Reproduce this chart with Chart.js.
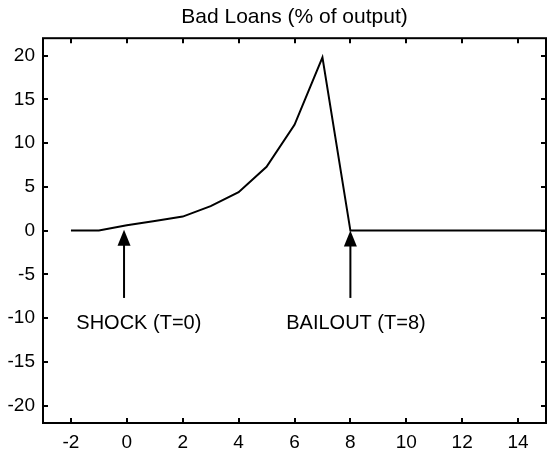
<!DOCTYPE html>
<html>
<head>
<meta charset="utf-8">
<script src="https://cdn.jsdelivr.net/npm/chart.js@4.4.1/dist/chart.umd.min.js"></script>
<style>
html,body{margin:0;padding:0;background:#fff;}
#wrap{width:547px;height:457px;}
</style>
</head>
<body>
<div id="wrap"><canvas id="c" width="547" height="457"></canvas></div>
<script>
// ---- data ----
const periods   = [-2,-1,0,1,2,3,4,5,6,7,8,9,10,11,12,13,14,15];
const badLoans  = [0,0,0.6,1.1,1.6,2.8,4.4,7.3,12.1,19.8,0,0,0,0,0,0,0,0];
const xTickVals = [-2,0,2,4,6,8,10,12,14];
const yTickVals = [-20,-15,-10,-5,0,5,10,15,20];
const titleText = 'Bad Loans (% of output)';
const arrowX      = [-0.1, 8];
const arrowTipY   = [0.1, 0];
const arrowTailY  = [-7.7, -7.7];
const labelTexts  = ['SHOCK (T=0)', 'BAILOUT (T=8)'];
const labelX      = [0.43, 8.2];
const labelY      = [-10.6, -10.6];

const FONT = "'Liberation Sans', Arial, Helvetica, sans-serif";

const points = periods.map((p,i)=>({x:p, y:badLoans[i]}));

const decor = {
  id:'decor',
  afterDatasetsDraw(chart){
    const {ctx, chartArea:a, scales:{x, y}} = chart;
    ctx.save();
    ctx.strokeStyle = '#000';
    ctx.fillStyle = '#000';
    // frame
    ctx.lineWidth = 2;
    ctx.strokeRect(a.left, a.top, a.right - a.left, a.bottom - a.top);
    // inward ticks
    const tl = 5;
    ctx.beginPath();
    xTickVals.forEach(v=>{
      const px = Math.round(x.getPixelForValue(v));
      ctx.moveTo(px, a.bottom); ctx.lineTo(px, a.bottom - tl);
      ctx.moveTo(px, a.top); ctx.lineTo(px, a.top + tl);
    });
    yTickVals.forEach(v=>{
      const py = Math.round(y.getPixelForValue(v));
      ctx.moveTo(a.left, py); ctx.lineTo(a.left + tl, py);
      ctx.moveTo(a.right, py); ctx.lineTo(a.right - tl, py);
    });
    ctx.stroke();
    // arrows
    arrowX.forEach((ax,i)=>{
      const px = x.getPixelForValue(ax);
      const tip = y.getPixelForValue(arrowTipY[i]);
      const tail = y.getPixelForValue(arrowTailY[i]);
      const hh = 16, hw = 6.5;
      ctx.lineWidth = 2;
      ctx.beginPath();
      ctx.moveTo(px, tail); ctx.lineTo(px, tip + hh - 2);
      ctx.stroke();
      ctx.beginPath();
      ctx.moveTo(px, tip);
      ctx.lineTo(px - hw, tip + hh);
      ctx.lineTo(px + hw, tip + hh);
      ctx.closePath();
      ctx.fill();
    });
    // labels
    ctx.font = '20px ' + FONT;
    ctx.textAlign = 'center';
    ctx.textBaseline = 'middle';
    labelTexts.forEach((t,i)=>{
      ctx.fillText(t, x.getPixelForValue(labelX[i]), y.getPixelForValue(labelY[i]));
    });
    ctx.restore();
  }
};

new Chart(document.getElementById('c'), {
  type:'line',
  data:{
    datasets:[{
      data: points,
      borderColor:'#000',
      borderWidth:2,
      pointRadius:0,
      tension:0,
      fill:false
    }]
  },
  options:{
    responsive:false,
    animation:false,
    devicePixelRatio:1,
    layout:{padding:{left:0,right:1,top:0,bottom:0}},
    plugins:{
      legend:{display:false},
      tooltip:{enabled:false},
      title:{
        display:true,
        fullSize:false,
        text:titleText,
        color:'#000',
        font:{family:FONT, size:21, weight:'normal'},
        padding:{top:5,bottom:8}
      }
    },
    scales:{
      x:{
        type:'linear',
        min:-3, max:15,
        afterBuildTicks(s){ s.ticks = xTickVals.map(v=>({value:v})); },
        afterFit(s){ s.height = 34; },
        grid:{display:false, drawTicks:false},
        border:{display:false},
        ticks:{color:'#000', font:{family:FONT, size:19}, padding:8, maxRotation:0, autoSkip:false}
      },
      y:{
        type:'linear',
        min:-22, max:22,
        afterBuildTicks(s){ s.ticks = yTickVals.map(v=>({value:v})); },
        afterFit(s){ s.width = 43; },
        grid:{display:false, drawTicks:false},
        border:{display:false},
        ticks:{color:'#000', font:{family:FONT, size:19}, padding:8, autoSkip:false}
      }
    }
  },
  plugins:[decor]
});
</script>
</body>
</html>
